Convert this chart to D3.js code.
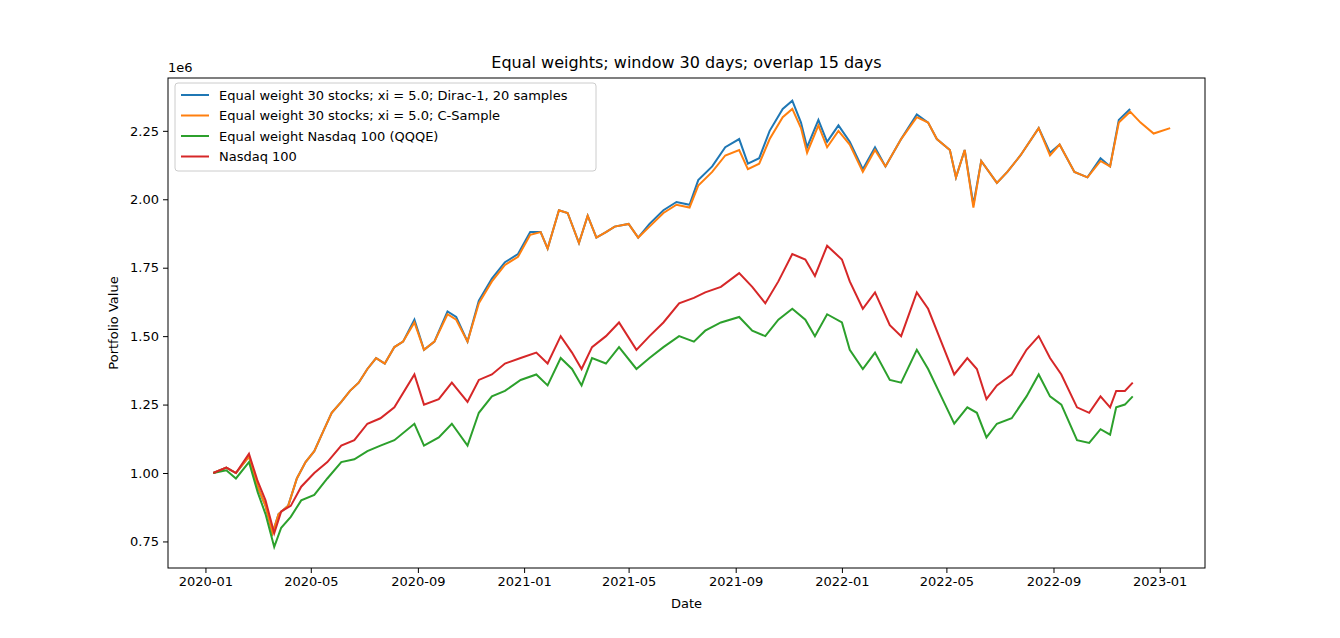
<!DOCTYPE html>
<html>
<head>
<meta charset="UTF-8">
<style>
  body { margin: 0; background: white; }
  text { font-family: "DejaVu Sans", sans-serif; }
</style>
</head>
<body>
<svg width="1340" height="638"></svg>
<script src="https://d3js.org/d3.v7.min.js"></script>
<script>

// Portfolio values (in 1e6)
const topDates = ["2020-01-10","2020-01-25","2020-02-05","2020-02-20","2020-03-01","2020-03-10","2020-03-18","2020-03-25","2020-04-05","2020-04-15","2020-04-25","2020-05-05","2020-05-15","2020-05-25","2020-06-05","2020-06-15","2020-06-25","2020-07-05","2020-07-15","2020-07-25","2020-08-05","2020-08-15","2020-08-28","2020-09-08","2020-09-20","2020-10-05","2020-10-15","2020-10-28","2020-11-10","2020-11-25","2020-12-10","2020-12-25","2021-01-08","2021-01-20","2021-01-28","2021-02-10","2021-02-20","2021-03-05","2021-03-15","2021-03-25","2021-04-05","2021-04-15","2021-05-01","2021-05-12","2021-05-25","2021-06-10","2021-06-25","2021-07-10","2021-07-20","2021-08-05","2021-08-20","2021-09-05","2021-09-15","2021-09-28","2021-10-10","2021-10-25","2021-11-05","2021-11-15","2021-11-22","2021-12-05","2021-12-15","2021-12-28","2022-01-10","2022-01-25","2022-02-08","2022-02-20","2022-03-10","2022-03-28","2022-04-10","2022-04-20","2022-05-05","2022-05-12","2022-05-22","2022-06-01","2022-06-10","2022-06-28","2022-07-10","2022-07-25","2022-08-15","2022-08-28","2022-09-08","2022-09-25","2022-10-10","2022-10-25","2022-11-05","2022-11-15","2022-11-28","2022-12-10","2022-12-25","2023-01-13"];

const orangeVals = [1.00,1.02,1.00,1.06,0.95,0.88,0.78,0.85,0.88,0.98,1.04,1.08,1.15,1.22,1.26,1.30,1.33,1.38,1.42,1.40,1.46,1.48,1.55,1.45,1.48,1.58,1.56,1.48,1.62,1.70,1.76,1.79,1.87,1.88,1.82,1.96,1.95,1.84,1.94,1.86,1.88,1.90,1.91,1.86,1.90,1.95,1.98,1.97,2.05,2.10,2.16,2.18,2.11,2.13,2.22,2.30,2.33,2.26,2.17,2.27,2.19,2.25,2.20,2.10,2.18,2.12,2.22,2.30,2.28,2.22,2.18,2.08,2.18,1.97,2.14,2.06,2.10,2.16,2.26,2.16,2.20,2.10,2.08,2.14,2.12,2.28,2.32,2.28,2.24,2.26];

const blueVals = [1.00,1.02,1.00,1.06,0.95,0.88,0.78,0.85,0.88,0.98,1.04,1.08,1.15,1.22,1.26,1.30,1.33,1.38,1.42,1.40,1.46,1.48,1.56,1.45,1.48,1.59,1.57,1.48,1.63,1.71,1.77,1.80,1.88,1.88,1.82,1.96,1.95,1.84,1.94,1.86,1.88,1.90,1.91,1.86,1.91,1.96,1.99,1.98,2.07,2.12,2.19,2.22,2.13,2.15,2.25,2.33,2.36,2.28,2.19,2.29,2.21,2.27,2.21,2.11,2.19,2.12,2.22,2.31,2.28,2.22,2.18,2.08,2.18,1.98,2.14,2.06,2.10,2.16,2.26,2.17,2.20,2.10,2.08,2.15,2.12,2.29,2.33];

const lowDates = ["2020-01-10","2020-01-25","2020-02-05","2020-02-20","2020-03-01","2020-03-10","2020-03-20","2020-03-28","2020-04-08","2020-04-20","2020-05-05","2020-05-20","2020-06-05","2020-06-20","2020-07-05","2020-07-20","2020-08-05","2020-08-28","2020-09-08","2020-09-25","2020-10-10","2020-10-28","2020-11-10","2020-11-25","2020-12-10","2020-12-28","2021-01-15","2021-01-28","2021-02-12","2021-02-25","2021-03-08","2021-03-20","2021-04-05","2021-04-20","2021-05-10","2021-05-25","2021-06-10","2021-06-28","2021-07-15","2021-07-28","2021-08-15","2021-09-05","2021-09-20","2021-10-05","2021-10-20","2021-11-05","2021-11-20","2021-12-01","2021-12-15","2022-01-01","2022-01-10","2022-01-25","2022-02-08","2022-02-25","2022-03-10","2022-03-28","2022-04-10","2022-04-25","2022-05-10","2022-05-25","2022-06-05","2022-06-16","2022-06-28","2022-07-15","2022-08-01","2022-08-15","2022-08-28","2022-09-10","2022-09-28","2022-10-12","2022-10-25","2022-11-05","2022-11-12","2022-11-22","2022-12-01"];

const greenVals = [1.00,1.01,0.98,1.04,0.93,0.85,0.73,0.80,0.84,0.90,0.92,0.98,1.04,1.05,1.08,1.10,1.12,1.18,1.10,1.13,1.18,1.10,1.22,1.28,1.30,1.34,1.36,1.32,1.42,1.38,1.32,1.42,1.40,1.46,1.38,1.42,1.46,1.50,1.48,1.52,1.55,1.57,1.52,1.50,1.56,1.60,1.56,1.50,1.58,1.55,1.45,1.38,1.44,1.34,1.33,1.45,1.38,1.28,1.18,1.24,1.22,1.13,1.18,1.20,1.28,1.36,1.28,1.25,1.12,1.11,1.16,1.14,1.24,1.25,1.28];

const redVals = [1.00,1.02,1.00,1.07,0.97,0.90,0.78,0.86,0.88,0.95,1.00,1.04,1.10,1.12,1.18,1.20,1.24,1.36,1.25,1.27,1.33,1.26,1.34,1.36,1.40,1.42,1.44,1.40,1.50,1.44,1.38,1.46,1.50,1.55,1.45,1.50,1.55,1.62,1.64,1.66,1.68,1.73,1.68,1.62,1.70,1.80,1.78,1.72,1.83,1.78,1.70,1.60,1.66,1.54,1.50,1.66,1.60,1.48,1.36,1.42,1.38,1.27,1.32,1.36,1.45,1.50,1.42,1.36,1.24,1.22,1.28,1.24,1.30,1.30,1.33];

const seriesNames = ["Equal weight 30 stocks; xi = 5.0; Dirac-1, 20 samples","Equal weight 30 stocks; xi = 5.0; C-Sample","Equal weight Nasdaq 100 (QQQE)","Nasdaq 100"];
const seriesColors = ["#1f77b4","#ff7f0e","#2ca02c","#d62728"];
const yTicks = [0.75,1.00,1.25,1.50,1.75,2.00,2.25];

const parse = d3.timeParse("%Y-%m-%d");
const series = [
  {dates: topDates.slice(0, blueVals.length), vals: blueVals},
  {dates: topDates, vals: orangeVals},
  {dates: lowDates, vals: greenVals},
  {dates: lowDates, vals: redVals}
].map((s, i) => ({name: seriesNames[i], color: seriesColors[i],
  pts: s.vals.map((v, j) => ({d: parse(s.dates[j]), v: v}))}));

const L = 168, R = 1205, T = 78, B = 568;
const svg = d3.select("svg");

const x = d3.scaleTime()
  .domain([parse("2019-11-19"), parse("2023-02-22")])
  .range([L, R]);
const y = d3.scaleLinear().domain([0.653, 2.443]).range([B, T]);

const line = d3.line().x(d => x(d.d)).y(d => y(d.v));

svg.append("g").selectAll("path")
  .data(series).enter().append("path")
  .attr("fill", "none")
  .attr("stroke", d => d.color)
  .attr("stroke-width", 2)
  .attr("d", d => line(d.pts));

// axes
const xTicks = d3.timeMonth.every(4).range(parse("2020-01-01"), parse("2023-01-02"));
const xAxis = svg.append("g").attr("transform", `translate(0,${B})`)
  .call(d3.axisBottom(x).tickValues(xTicks).tickFormat(d3.timeFormat("%Y-%m")).tickSize(5).tickPadding(4));
const yAxis = svg.append("g").attr("transform", `translate(${L},0)`)
  .call(d3.axisLeft(y).tickValues(yTicks).tickFormat(d3.format(".2f")).tickSize(5).tickPadding(4));
[xAxis, yAxis].forEach(a => {
  a.selectAll("text").style("font-size", "13px").attr("fill", "black").style("font-family", "DejaVu Sans");
  a.select(".domain").remove();
});

svg.append("rect").attr("x", L).attr("y", T).attr("width", R - L).attr("height", B - T)
  .attr("fill", "none").attr("stroke", "black").attr("stroke-width", 1);

svg.append("text").attr("x", L).attr("y", T - 6).style("font-size", "13px").text("1e6");
svg.append("text").attr("x", (L + R) / 2).attr("y", T - 10).attr("text-anchor", "middle")
  .style("font-size", "16px").text("Equal weights; window 30 days; overlap 15 days");
svg.append("text").attr("x", (L + R) / 2).attr("y", 608).attr("text-anchor", "middle")
  .style("font-size", "13px").text("Date");
svg.append("text").attr("transform", `translate(118,${(T + B) / 2}) rotate(-90)`)
  .attr("text-anchor", "middle").style("font-size", "13px").text("Portfolio Value");

// legend
const lg = svg.append("g").attr("transform", "translate(175,83)");
lg.append("rect").attr("width", 421).attr("height", 88).attr("rx", 3)
  .attr("fill", "white").attr("fill-opacity", 0.8).attr("stroke", "#cccccc");
series.forEach((s, i) => {
  const yy = 12 + i * 20.5;
  lg.append("line").attr("x1", 6).attr("x2", 34).attr("y1", yy).attr("y2", yy)
    .attr("stroke", s.color).attr("stroke-width", 2);
  lg.append("text").attr("x", 44).attr("y", yy + 4.5).style("font-size", "13px").text(s.name);
});
</script>
</body>
</html>
